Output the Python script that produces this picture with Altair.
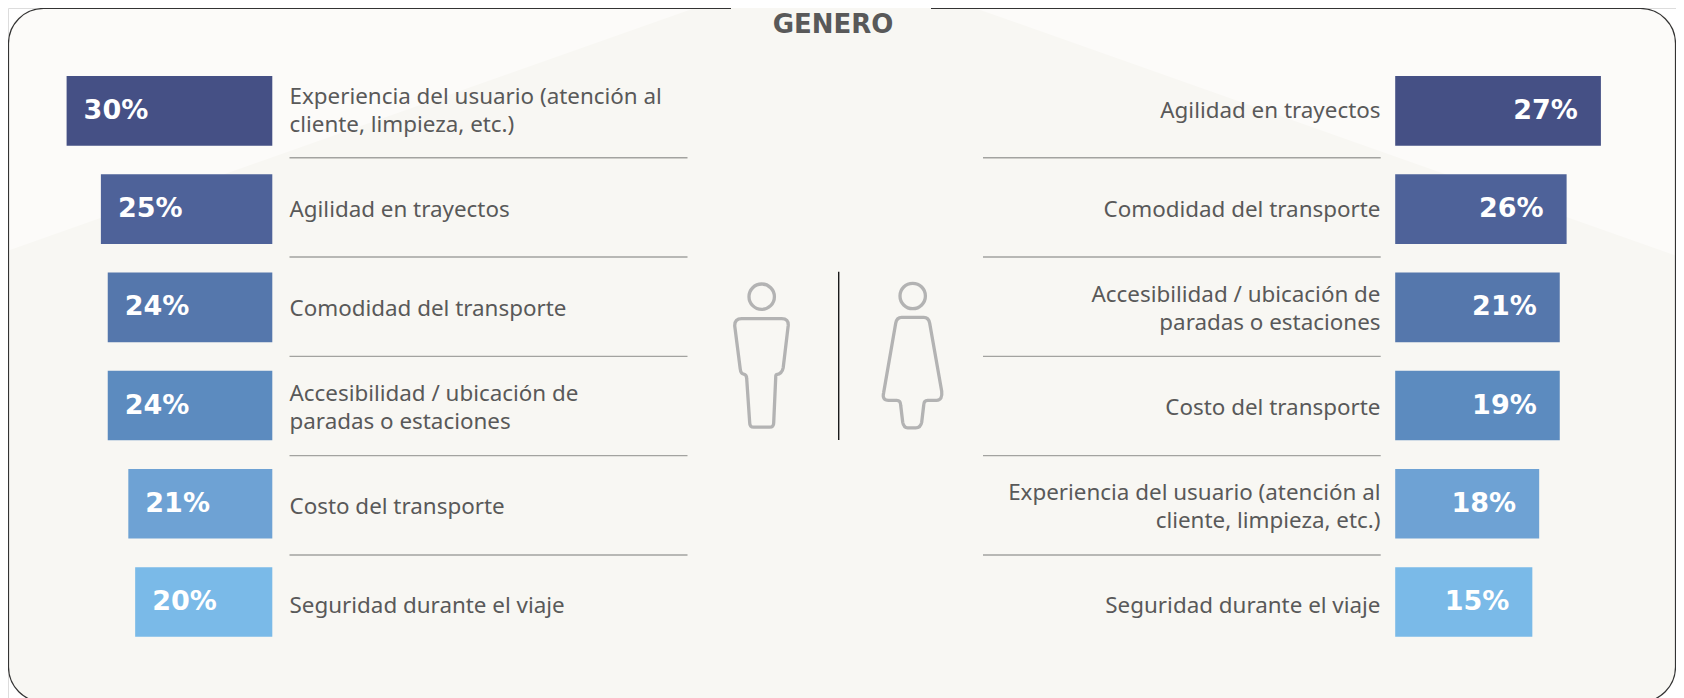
import altair as alt
import pandas as pd

# ---------- data ----------
ranks = [0, 1, 2, 3, 4, 5]
bar_lengths = [30, 25, 24, 24, 21, 20]
men_labels = ["30%", "25%", "24%", "24%", "21%", "20%"]
women_labels = ["27%", "26%", "21%", "19%", "18%", "15%"]
men_cats = [
    "Experiencia del usuario (atención al\ncliente, limpieza, etc.)",
    "Agilidad en trayectos",
    "Comodidad del transporte",
    "Accesibilidad / ubicación de\nparadas o estaciones",
    "Costo del transporte",
    "Seguridad durante el viaje",
]
women_cats = [
    "Agilidad en trayectos",
    "Comodidad del transporte",
    "Accesibilidad / ubicación de\nparadas o estaciones",
    "Costo del transporte",
    "Experiencia del usuario (atención al\ncliente, limpieza, etc.)",
    "Seguridad durante el viaje",
]
colors = ["#455085", "#4E6299", "#5577AC", "#5C8BBF", "#6EA2D4", "#7ABAE8"]
separators = [0, 1, 2, 3, 4]

df = pd.DataFrame({
    "rank": ranks, "len": bar_lengths, "color": colors,
    "men_label": men_labels, "women_label": women_labels,
    "men_cat": men_cats, "women_cat": women_cats,
})
sep_df = pd.DataFrame({"i": separators})

W, H = 1668, 690
OFF = 8
FONT = "Noto Sans"
BOLD = "DejaVu Sans"
TEXT = "#595959"
PANEL = "#F8F7F3"
LIGHT = "#FCFBF9"
LINE_H = 27.5
CAT_SIZE = 22.4


def px(v):
    return v - OFF


y_bar = alt.Y("rank:Q", axis=None, scale=alt.Scale(domain=[0, 5], range=[px(110.8), px(602)], padding=0))
y_txt = alt.Y("rank:Q", axis=None, scale=alt.Scale(domain=[0, 5], range=[px(111), px(606)], padding=0))
y_sep = alt.Y("i:Q", axis=None, scale=alt.Scale(domain=[0, 4], range=[px(157.7), px(555)], padding=0))
x_men = alt.X("len:Q", axis=None, scale=alt.Scale(domain=[0, 30], range=[px(272.3), px(66.6)], padding=0))
x_women = alt.X("len:Q", axis=None, scale=alt.Scale(domain=[0, 30], range=[px(1395.2), px(1600.9)], padding=0))

one = pd.DataFrame({"a": [0]})
base = alt.Chart(one)
R_EDGE = W - 0.5

panel = base.mark_rect(fill=PANEL, cornerRadius=35).encode(
    x=alt.value(0.5), x2=alt.value(R_EDGE), y=alt.value(0.5), y2=alt.value(px(702)))

left_tri = base.mark_point(
    shape="M 0 242 L 0 35 Q 0 0 35 0 L 685 0 Z", filled=True, fill=LIGHT, opacity=1, size=4, strokeWidth=0
).encode(x=alt.value(0.5), y=alt.value(0.5))
right_tri = base.mark_point(
    shape="M 968 0 L 1632.5 0 Q 1667.5 0 1667.5 35 L 1667.5 247 Z", filled=True, fill=LIGHT, opacity=1, size=4, strokeWidth=0
).encode(x=alt.value(0), y=alt.value(0.5))

border = base.mark_rect(fill="transparent", stroke="#333333", strokeWidth=1.2, cornerRadius=35).encode(
    x=alt.value(0.5), x2=alt.value(R_EDGE), y=alt.value(0.5), y2=alt.value(px(702)))
gap = base.mark_rect(fill=PANEL).encode(
    x=alt.value(px(731)), x2=alt.value(px(931)), y=alt.value(0), y2=alt.value(6))
title = base.mark_text(
    text="GENERO", font=BOLD, fontWeight="bold", fontSize=26, color=TEXT, baseline="alphabetic", align="center"
).encode(x=alt.value(px(833)), y=alt.value(25))

men_bars = alt.Chart(df).mark_bar(orient="horizontal", size=69.7).encode(
    y=y_bar, x=x_men, x2=alt.datum(0), color=alt.Color("color:N", scale=None))
women_bars = alt.Chart(df).mark_bar(orient="horizontal", size=69.7).encode(
    y=y_bar, x=x_women, x2=alt.datum(0), color=alt.Color("color:N", scale=None))

men_pct = alt.Chart(df).mark_text(
    font=BOLD, fontWeight="bold", fontSize=27, color="white", align="left", baseline="middle", dx=17
).encode(y=y_bar, x=x_men, text="men_label:N")
women_pct = alt.Chart(df).mark_text(
    font=BOLD, fontWeight="bold", fontSize=27, color="white", align="right", baseline="middle", dx=-23
).encode(y=y_bar, x=x_women, text="women_label:N")


def cat_text(field, align, xpos):
    two = f"indexof(datum.{field}, '\\n') >= 0"
    single = alt.Chart(df).transform_filter(f"!({two})").mark_text(
        font=FONT, fontSize=CAT_SIZE, color=TEXT, align=align, baseline="middle"
    ).encode(y=y_txt, x=alt.value(px(xpos)), text=f"{field}:N")
    double = alt.Chart(df).transform_filter(two).mark_text(
        font=FONT, fontSize=CAT_SIZE, color=TEXT, align=align, baseline="middle",
        lineBreak="\n", lineHeight=LINE_H, dy=-LINE_H / 2,
    ).encode(y=y_txt, x=alt.value(px(xpos)), text=f"{field}:N")
    return [single, double]


men_txt = cat_text("men_cat", "left", 289.5)
women_txt = cat_text("women_cat", "right", 1380.5)

men_sep = alt.Chart(sep_df).mark_rule(color="#A3A3A0", strokeWidth=1.4).encode(
    y=y_sep, x=alt.value(px(289.5)), x2=alt.value(px(687.5)))
women_sep = alt.Chart(sep_df).mark_rule(color="#A3A3A0", strokeWidth=1.4).encode(
    y=y_sep, x=alt.value(px(983)), x2=alt.value(px(1380.7)))

divider = base.mark_rule(color="#1a1a1a", strokeWidth=1.4).encode(
    x=alt.value(px(838.7)), y=alt.value(px(271.7)), y2=alt.value(px(440)))

ICON = "#B3B3B3"
ICON_W = 3.3
circle = "M -12.7 0 A 12.7 12.7 0 1 1 12.7 0 A 12.7 12.7 0 1 1 -12.7 0 Z"
man_head = base.mark_point(shape=circle, size=4, stroke=ICON, strokeWidth=ICON_W, opacity=1, filled=False).encode(
    x=alt.value(px(761.7)), y=alt.value(px(296.7)))
woman_head = base.mark_point(shape=circle, size=4, stroke=ICON, strokeWidth=ICON_W, opacity=1, filled=False).encode(
    x=alt.value(px(912.7)), y=alt.value(px(296)))
man_body = base.mark_point(
    shape="M -20 0 L 20 0 Q 27 0 26.5 7 L 21.5 49 Q 20.5 55 14.5 56 Q 14 56 14 59 L 12 104 Q 12 108.5 8 108.5 "
          "L -8 108.5 Q -12 108.5 -12 104 L -15 60 Q -15 56 -18 55.5 Q -21 55 -21.5 50 L -27 7 Q -27 0 -20 0 Z",
    size=4, stroke=ICON, strokeWidth=ICON_W, opacity=1, filled=False,
).encode(x=alt.value(px(761.7)), y=alt.value(px(318.7)))
woman_body = base.mark_point(
    shape="M -11 0 L 11 0 Q 16 0 17 6 L 29 74 Q 30 83 24 83 L 15 83 Q 11 83 11 88 L 9 105 Q 8 110.5 3 110.5 "
          "L -5 110.5 Q -9 110.5 -10 105 L -12 88 Q -12 83 -16 83 L -24 83 Q -31 83 -29 75 L -17 6 Q -16 0 -11 0 Z",
    size=4, stroke=ICON, strokeWidth=ICON_W, opacity=1, filled=False,
).encode(x=alt.value(px(912.7)), y=alt.value(px(317.3)))

chart = alt.layer(
    panel, left_tri, right_tri, border, gap, title,
    men_bars, women_bars, men_pct, women_pct, *men_txt, *women_txt,
    men_sep, women_sep, divider,
    man_head, woman_head, man_body, woman_body,
).resolve_scale(x="independent", y="independent").properties(
    width=W, height=H, padding=0,
    autosize=alt.AutoSizeParams(type="none"),
).configure_view(stroke=None).configure(background="#FFFFFF")

chart.save("out.html", embed_options={"renderer": "svg", "actions": False})
